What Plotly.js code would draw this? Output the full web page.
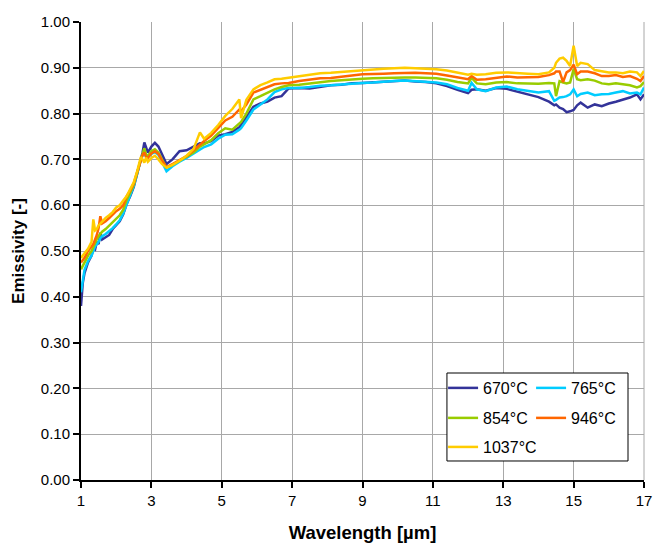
<!DOCTYPE html>
<html>
<head>
<meta charset="utf-8">
<script src="https://cdn.plot.ly/plotly-3.0.1.min.js"></script>
<style>html,body{margin:0;padding:0;background:#fff;}#chart{width:654px;height:543px;}</style>
</head>
<body>
<div id="chart"></div>
<script>
const wavelength = [1.0,1.05,1.1,1.2,1.3,1.35,1.4,1.45,1.5,1.55,1.6,1.7,1.8,1.9,2.0,2.1,2.2,2.3,2.4,2.5,2.6,2.7,2.75,2.8,2.85,2.9,3.0,3.1,3.2,3.3,3.43,3.6,3.8,4.0,4.2,4.38,4.5,4.7,4.9,5.1,5.3,5.5,5.55,5.7,5.9,6.1,6.3,6.5,6.7,6.9,7.2,7.5,7.8,8.1,8.4,8.7,9.0,9.3,9.6,9.9,10.2,10.5,10.8,11.1,11.4,11.7,12.0,12.1,12.25,12.5,12.8,13.1,13.4,13.7,14.0,14.3,14.45,14.5,14.6,14.7,14.8,14.9,15.0,15.1,15.2,15.4,15.6,15.8,16.0,16.2,16.4,16.6,16.8,16.9,17.0];

const e670 = [0.38,0.43,0.452,0.475,0.49,0.505,0.503,0.52,0.515,0.54,0.525,0.53,0.535,0.548,0.556,0.565,0.58,0.603,0.62,0.64,0.67,0.70,0.715,0.737,0.725,0.715,0.728,0.736,0.728,0.71,0.69,0.70,0.718,0.72,0.728,0.735,0.735,0.74,0.752,0.755,0.76,0.77,0.775,0.792,0.815,0.822,0.826,0.835,0.838,0.855,0.856,0.855,0.858,0.862,0.863,0.866,0.867,0.868,0.870,0.871,0.872,0.870,0.869,0.866,0.86,0.852,0.845,0.852,0.853,0.85,0.856,0.854,0.848,0.842,0.836,0.826,0.818,0.82,0.813,0.81,0.803,0.805,0.808,0.818,0.824,0.813,0.82,0.816,0.822,0.826,0.831,0.835,0.842,0.831,0.842];

const e765 = [0.41,0.435,0.459,0.478,0.49,0.50,0.51,0.515,0.52,0.528,0.532,0.537,0.543,0.55,0.558,0.567,0.582,0.603,0.622,0.642,0.67,0.70,0.708,0.715,0.705,0.705,0.712,0.716,0.71,0.695,0.674,0.685,0.695,0.703,0.712,0.722,0.727,0.733,0.745,0.754,0.755,0.765,0.768,0.785,0.809,0.82,0.831,0.847,0.853,0.856,0.856,0.858,0.861,0.862,0.864,0.866,0.867,0.868,0.87,0.871,0.872,0.871,0.87,0.868,0.864,0.856,0.85,0.867,0.853,0.849,0.857,0.859,0.853,0.85,0.846,0.849,0.828,0.83,0.835,0.836,0.838,0.842,0.853,0.838,0.843,0.846,0.84,0.842,0.843,0.846,0.849,0.844,0.846,0.842,0.857];

const e854 = [0.46,0.468,0.474,0.49,0.50,0.51,0.52,0.526,0.532,0.538,0.542,0.548,0.555,0.562,0.570,0.578,0.59,0.612,0.628,0.645,0.672,0.703,0.712,0.724,0.71,0.708,0.718,0.722,0.715,0.70,0.682,0.688,0.697,0.705,0.715,0.728,0.733,0.742,0.757,0.768,0.765,0.78,0.782,0.80,0.831,0.838,0.845,0.853,0.858,0.862,0.863,0.866,0.869,0.871,0.873,0.875,0.876,0.877,0.878,0.878,0.879,0.879,0.878,0.877,0.874,0.869,0.866,0.878,0.866,0.864,0.868,0.869,0.866,0.866,0.865,0.867,0.866,0.838,0.871,0.868,0.866,0.868,0.897,0.875,0.873,0.875,0.872,0.866,0.864,0.866,0.864,0.862,0.857,0.86,0.869];

const e946 = [0.475,0.48,0.485,0.50,0.51,0.515,0.525,0.535,0.55,0.576,0.56,0.565,0.572,0.58,0.587,0.592,0.60,0.62,0.632,0.648,0.673,0.703,0.71,0.715,0.705,0.703,0.713,0.718,0.712,0.698,0.683,0.69,0.698,0.707,0.72,0.733,0.74,0.752,0.768,0.785,0.793,0.809,0.805,0.82,0.846,0.852,0.858,0.864,0.866,0.867,0.871,0.874,0.877,0.878,0.88,0.883,0.886,0.886,0.887,0.888,0.889,0.889,0.888,0.887,0.883,0.879,0.875,0.882,0.874,0.875,0.878,0.881,0.879,0.879,0.88,0.884,0.888,0.892,0.892,0.869,0.89,0.895,0.907,0.886,0.892,0.892,0.888,0.882,0.882,0.884,0.88,0.882,0.876,0.871,0.882];

const e1037 = [0.485,0.49,0.495,0.505,0.52,0.569,0.545,0.548,0.556,0.56,0.565,0.572,0.578,0.585,0.595,0.60,0.61,0.62,0.635,0.65,0.675,0.705,0.70,0.693,0.704,0.695,0.703,0.708,0.70,0.69,0.682,0.688,0.697,0.708,0.723,0.759,0.745,0.758,0.775,0.795,0.81,0.831,0.79,0.83,0.853,0.862,0.868,0.875,0.876,0.878,0.882,0.885,0.888,0.889,0.891,0.893,0.895,0.896,0.898,0.899,0.900,0.899,0.898,0.897,0.894,0.89,0.885,0.887,0.885,0.886,0.889,0.89,0.888,0.887,0.886,0.89,0.9,0.911,0.92,0.922,0.915,0.904,0.948,0.904,0.911,0.908,0.895,0.893,0.89,0.89,0.888,0.892,0.89,0.882,0.893];

const seriesNames = ['670°C','765°C','854°C','946°C','1037°C'];
const seriesValues = [e670, e765, e854, e946, e1037];
const seriesColors = ['#333399','#00CCFF','#99CC00','#FF6600','#FFCC00'];
const legendIds = ['legend','legend','legend2','legend2','legend3'];
const xTickVals = [1,3,5,7,9,11,13,15,17];

const FONT = 'Liberation Sans, Arial, sans-serif';

const traces = seriesValues.map((vals, i) => ({
  type: 'scatter',
  mode: 'lines',
  x: wavelength,
  y: vals,
  name: seriesNames[i],
  legend: legendIds[i],
  line: {color: seriesColors[i], width: 2.5},
  hoverinfo: 'skip'
}));

const legendCommon = {
  orientation: 'h',
  xanchor: 'left',
  yanchor: 'middle',
  x: 0.652,
  bgcolor: 'rgba(0,0,0,0)',
  borderwidth: 0,
  entrywidth: 48,
  entrywidthmode: 'pixels',
  indentation: -5,
  font: {family: FONT, size: 16, color: '#000'},
  itemclick: false
};

const layout = {
  width: 654,
  height: 543,
  margin: {l: 81, r: 10, t: 22, b: 63},
  paper_bgcolor: '#fff',
  plot_bgcolor: '#fff',
  font: {family: FONT, size: 15, color: '#000'},
  showlegend: true,
  legend: Object.assign({}, legendCommon, {y: 0.2009}),
  legend2: Object.assign({}, legendCommon, {y: 0.1354}),
  legend3: Object.assign({}, legendCommon, {y: 0.072}),
  xaxis: {
    range: [1, 17],
    tickvals: xTickVals,
    ticktext: xTickVals.map(String),
    showgrid: true,
    gridcolor: '#a8a8a8',
    gridwidth: 1,
    showline: true,
    linecolor: '#000',
    linewidth: 2,
    ticks: 'outside',
    ticklen: 6,
    tickwidth: 2,
    tickcolor: '#000',
    zeroline: false,
    tickfont: {family: FONT, size: 15, color: '#000'},
    title: {text: 'Wavelength [µm]', font: {family: FONT, size: 18.5, color: '#000', weight: 'bold'}, standoff: 18}
  },
  yaxis: {
    range: [0, 1],
    dtick: 0.1,
    tick0: 0,
    tickformat: '.2f',
    showgrid: true,
    gridcolor: '#a8a8a8',
    gridwidth: 1,
    showline: true,
    linecolor: '#000',
    linewidth: 2,
    ticks: 'outside',
    ticklen: 6,
    tickwidth: 2,
    tickcolor: '#000',
    zeroline: false,
    tickfont: {family: FONT, size: 15, color: '#000'},
    title: {text: 'Emissivity [-]', font: {family: FONT, size: 17, color: '#000', weight: 'bold'}, standoff: 12}
  },
  shapes: [
    {type: 'line', xref: 'paper', yref: 'paper', x0: 1, x1: 1, y0: 0, y1: 1, line: {color: '#a8a8a8', width: 1}, layer: 'below'},
    {type: 'rect', xref: 'paper', yref: 'paper', x0: 0.650, x1: 0.9716, y0: 0.0415, y1: 0.2336, line: {color: '#000', width: 1}, fillcolor: '#fff', layer: 'above'}
  ]
};

Plotly.newPlot('chart', traces, layout, {displayModeBar: false, staticPlot: true});
</script>
</body>
</html>
